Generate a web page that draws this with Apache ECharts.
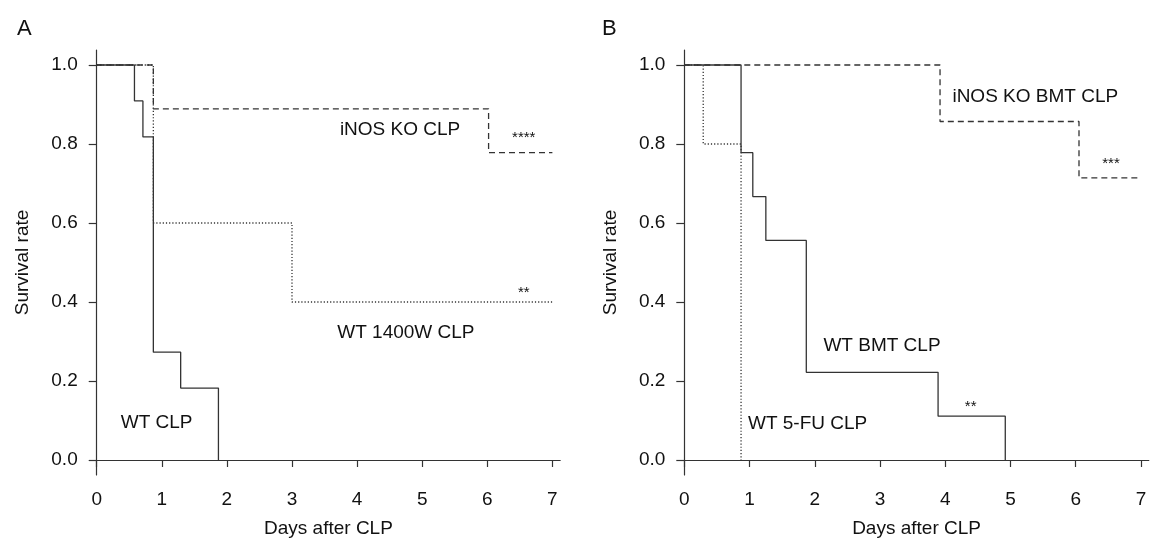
<!DOCTYPE html>
<html>
<head>
<meta charset="utf-8">
<script src="https://cdn.jsdelivr.net/npm/echarts@6/dist/echarts.min.js"></script>
<style>
  html, body { margin: 0; padding: 0; background: #fff; }
  #main { width: 1150px; height: 543px; }
</style>
</head>
<body>
<div id="main"></div>
<script>
// 数据：生存曲线（时间, 生存率）
var xTicks = [0, 1, 2, 3, 4, 5, 6, 7];
var yTicks = [0, 0.2, 0.4, 0.6, 0.8, 1.0];

// Panel A
var aWtTime = [0, 0.58, 0.71, 0.87, 1.29, 1.87];
var aWtRate = [1, 0.909, 0.818, 0.273, 0.182, 0];
var aKoTime = [0, 0.87, 6.02, 7];
var aKoRate = [1, 0.889, 0.778, 0.778];
var a1400Time = [0, 0.87, 3.0, 7];
var a1400Rate = [1, 0.6, 0.4, 0.4];

// Panel B
var bWtTime = [0, 0.87, 1.05, 1.25, 1.87, 3.89, 4.92];
var bWtRate = [1, 0.778, 0.667, 0.556, 0.222, 0.111, 0];
var bKoTime = [0, 3.92, 6.05, 7];
var bKoRate = [1, 0.857, 0.714, 0.714];
var bFuTime = [0, 0.29, 0.87];
var bFuRate = [1, 0.8, 0];

// 标注文字 [x, y, text, fontSize]
var aNotes = [
    [4.66, 0.836, 'iNOS KO CLP', 19],
    [6.56, 0.815, '****', 15],
    [6.56, 0.422, '**', 15],
    [4.75, 0.322, 'WT 1400W CLP', 19],
    [0.92, 0.094, 'WT CLP', 19]
];
var bNotes = [
    [5.38, 0.92, 'iNOS KO BMT CLP', 19],
    [6.54, 0.751, '***', 15],
    [3.03, 0.289, 'WT BMT CLP', 19],
    [4.39, 0.135, '**', 15],
    [1.89, 0.091, 'WT 5-FU CLP', 19]
];

var FONT = '"Liberation Sans", Arial, Helvetica, sans-serif';
var LINE = '#333';
var TEXT = '#111';

function pairs(t, r) {
    return t.map(function (v, i) { return [v, r[i]]; });
}

function curve(idx, t, r, type) {
    return {
        type: 'line',
        xAxisIndex: idx,
        yAxisIndex: idx,
        step: 'end',
        symbol: 'none',
        silent: true,
        lineStyle: { color: LINE, width: 1.3, type: type },
        data: pairs(t, r),
        z: 3
    };
}

function notes(idx, list) {
    return {
        type: 'scatter',
        xAxisIndex: idx,
        yAxisIndex: idx,
        symbolSize: 0,
        silent: true,
        itemStyle: { opacity: 1 },
        data: list.map(function (n) {
            return {
                value: [n[0], n[1]],
                label: {
                    show: true,
                    position: 'inside',
                    formatter: n[2],
                    fontSize: n[3],
                    color: TEXT,
                    opacity: 1,
                    fontFamily: FONT
                }
            };
        })
    };
}

function xAxis(idx) {
    return {
        type: 'value',
        gridIndex: idx,
        min: 0,
        max: 7.12,
        name: 'Days after CLP',
        nameLocation: 'middle',
        nameGap: 44,
        nameTextStyle: { fontSize: 19, color: TEXT, fontFamily: FONT },
        axisLine: { show: true, lineStyle: { color: LINE, width: 1.2 } },
        axisTick: { show: true, length: 7, customValues: xTicks, lineStyle: { color: LINE, width: 1.2 } },
        axisLabel: { customValues: xTicks, margin: 15, fontSize: 19, color: TEXT, fontFamily: FONT },
        splitLine: { show: false }
    };
}

function yAxis(idx) {
    return {
        type: 'value',
        gridIndex: idx,
        min: -0.038,
        max: 1.038,
        name: 'Survival rate',
        nameLocation: 'middle',
        nameGap: 64,
        nameTextStyle: { fontSize: 19, color: TEXT, fontFamily: FONT },
        axisLine: { show: true, lineStyle: { color: LINE, width: 1.2 } },
        axisTick: { show: true, length: 8, customValues: yTicks, lineStyle: { color: LINE, width: 1.2 } },
        axisLabel: {
            customValues: yTicks,
            margin: 19,
            fontSize: 19,
            color: TEXT,
            fontFamily: FONT,
            formatter: function (v) { return v.toFixed(1); }
        },
        splitLine: { show: false }
    };
}

var myChart = echarts.init(document.getElementById('main'));
var option = {
    backgroundColor: '#fff',
    animation: false,
    title: [
        { text: 'A', left: 12, top: 13, textStyle: { fontSize: 22, fontWeight: 'normal', color: TEXT, fontFamily: FONT } },
        { text: 'B', left: 597, top: 13, textStyle: { fontSize: 22, fontWeight: 'normal', color: TEXT, fontFamily: FONT } }
    ],
    grid: [
        { left: 96.7, top: 50, width: 463.5, height: 425 },
        { left: 684.3, top: 50, width: 464.5, height: 425 }
    ],
    xAxis: [xAxis(0), xAxis(1)],
    yAxis: [yAxis(0), yAxis(1)],
    series: [
        curve(0, a1400Time, a1400Rate, [1.2, 2]),
        curve(0, aKoTime, aKoRate, [6, 4]),
        curve(0, aWtTime, aWtRate, 'solid'),
        notes(0, aNotes),
        curve(1, bFuTime, bFuRate, [1.2, 2]),
        curve(1, bKoTime, bKoRate, [6, 4]),
        curve(1, bWtTime, bWtRate, 'solid'),
        notes(1, bNotes)
    ]
};
myChart.setOption(option);
</script>
</body>
</html>
